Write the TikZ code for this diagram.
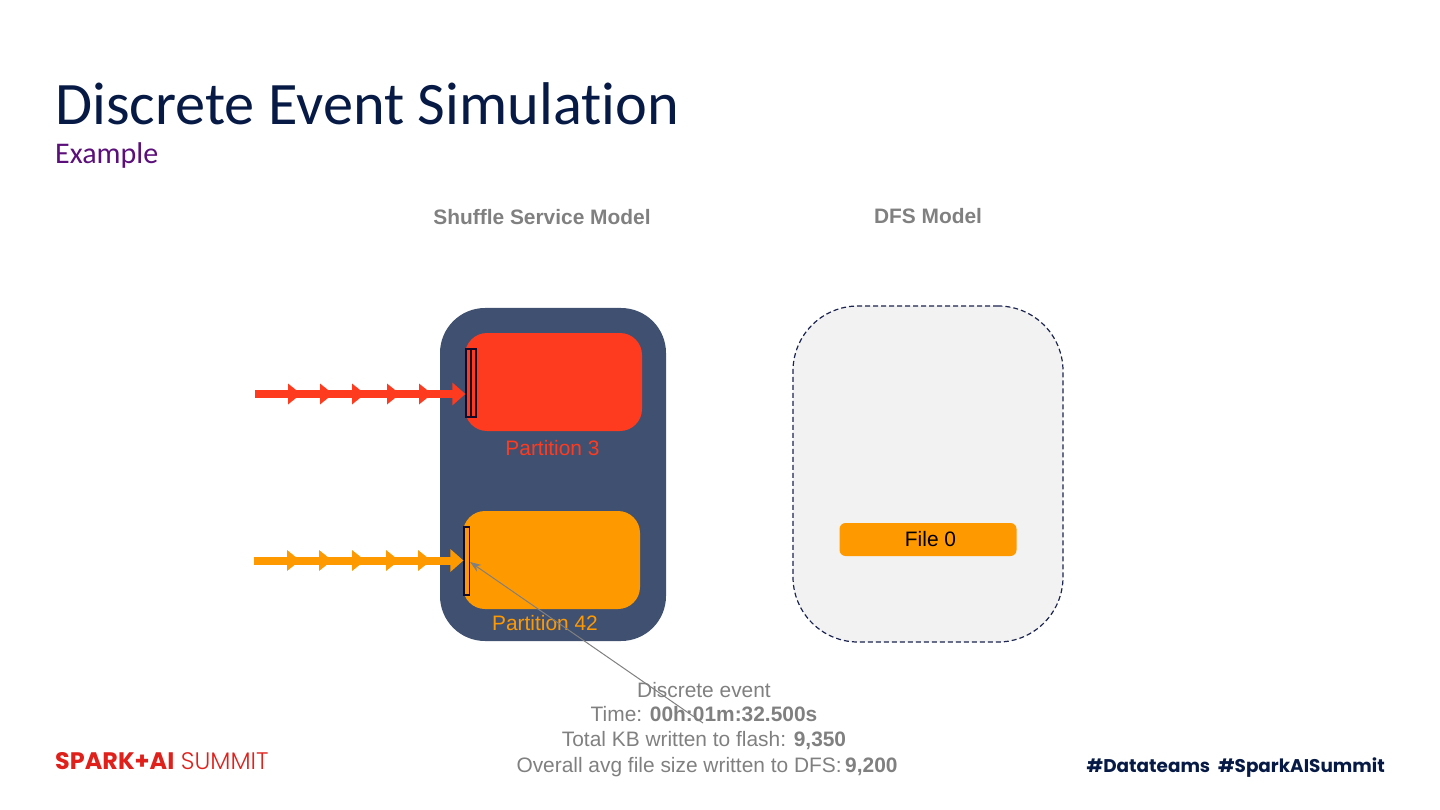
\documentclass[tikz,border=0pt]{standalone}
\usepackage{fontspec}
\usepackage{xcolor}
\setmainfont{Liberation Sans}
\newfontfamily\titlefont[Ligatures=NoCommon]{Carlito}
\newfontfamily\brandfont{Poppins}
\newfontfamily\brandlight[UprightFont=* Light]{Poppins}
\usetikzlibrary{calc,arrows.meta,positioning}
\definecolor{titlec}{HTML}{061A45}
\definecolor{subc}{HTML}{5B0F7A}
\definecolor{greyc}{HTML}{808080}
\definecolor{shufc}{HTML}{3F5070}
\definecolor{redc}{HTML}{FF3B1F}
\definecolor{orc}{HTML}{FF9900}
\definecolor{dfsc}{HTML}{F2F2F2}
\definecolor{edgec}{HTML}{1B2450}
\definecolor{bufc}{HTML}{140A28}
\definecolor{brandc}{HTML}{E0201B}
\tikzset{
  lab/.style={font=\fontsize{20.9}{24}\selectfont,inner sep=0pt},
  note/.style={lab,greyc,anchor=base},
  head/.style={lab,greyc,font=\fontsize{20.9}{24}\selectfont\bfseries},
  part/.style={rounded corners=22pt,minimum width=177pt,minimum height=98pt,inner sep=0pt},
  buf/.style={draw=bufc,line width=1.2pt,minimum height=68pt,inner sep=0pt},
  flow/.style={line width=8pt,-{Triangle[length=13pt,width=22pt]}},
  ptr/.style={greyc,line width=1pt,-{Stealth[length=11pt,width=8pt]}}
}
\newcommand{\stream}[3]{%
  \foreach \x in {#3}{%
    \fill[#1] (\x,#2-10.5)--(\x+13,#2)--(\x,#2+10.5)--cycle;}
}
\begin{document}
\begin{tikzpicture}[x=1pt,y=-1pt]
\useasboundingbox (0,0) rectangle (1440,810);
% slide heading
\node[anchor=base west,inner sep=0pt,titlec,font=\titlefont\fontsize{60.3}{64}\selectfont] (title) at (55,125) {Discrete Event Simulation};
\node[anchor=base west,inner sep=0pt,subc,font=\titlefont\fontsize{30}{34}\selectfont] (sub) at (55,164) {Example};
\node[head] (shufhead) at (542,217) {Shuffle Service Model};
\node[head] (dfshead) at (928,216) {DFS Model};
% shuffle service
\node[fill=shufc,rounded corners=45pt,minimum width=226pt,minimum height=333pt,inner sep=0pt] (shuf) at (553,474.5) {};
\node[part,fill=redc] (p3) at (553.5,382) {};
\node[part,fill=orc] (p42) at (551.5,560) {};
\node[lab,redc] (p3lab) at (552.5,448) {Partition 3};
\node[lab,orc] (p42lab) at (545,623.5) {Partition 42};
\node[buf,fill=redc,minimum width=5pt] (b3a) at (468.5,383) {};
\node[buf,fill=redc,minimum width=5pt] (b3b) at (473.5,383) {};
\node[buf,fill=orc,minimum width=5.5pt] (b42) at (466.75,561) {};
% dfs
\node[draw=edgec,fill=dfsc,dash pattern=on 5pt off 3pt,line width=1.2pt,rounded corners=65pt,minimum width=270pt,minimum height=336pt,inner sep=0pt] (dfs) at (928,474) {};
\node[fill=orc,rounded corners=6pt,minimum width=177pt,minimum height=33pt,inner sep=0pt] (file) at (928,539.5) {};
\node[lab] (filelab) at (930.5,539.5) {File 0};
% streams
\coordinate (s3) at (255,394);
\coordinate (s42) at (254,560.5);
\draw[flow,redc] (s3)--(s3-|b3a.west);
\draw[flow,orc] (s42)--(s42-|b42.west);
\stream{redc}{394}{288,320,352,387,419}
\stream{orc}{560.5}{287,319,352,386,418}
% event note
\coordinate (pin) at (703,723);
\draw[ptr] (pin)--(b42.east|-0,562);
\node[note] (ev1) at (704,697) {Discrete event};
\node[note] (ev2) at (704,721) {Time: \textbf{00h:01m:32.500s}};
\node[note] (ev3) at (704,746) {Total KB written to flash: \textbf{9,350}};
\node[note] (ev4) at (707,772) {Overall avg file size written to DFS:\,\textbf{9,200}};
% footer
\node[anchor=base west,inner sep=0pt,brandc,font=\fontsize{23.9}{26}\selectfont] (brand) at (55,769.5) {{\brandfont\bfseries SPARK+AI} {\brandlight SUMMIT}};
\node[anchor=base east,inner sep=0pt,titlec,font=\brandfont\bfseries\fontsize{18.4}{24}\selectfont] (tags) at (1385,772) {\#Datateams\ \ \#SparkAISummit};
\end{tikzpicture}
\end{document}
